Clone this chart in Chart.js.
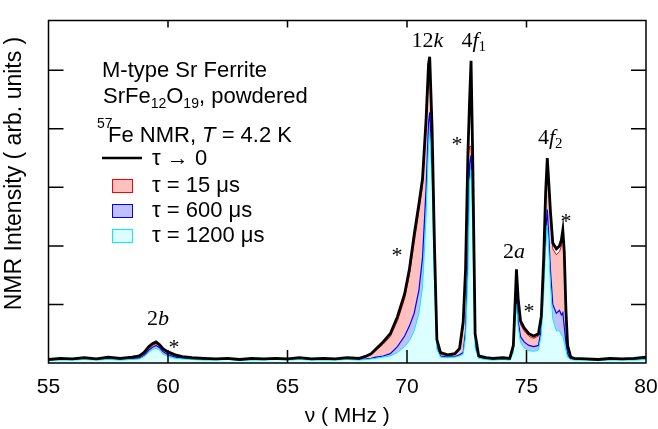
<!DOCTYPE html>
<html><head><meta charset="utf-8">
<script src="https://cdn.jsdelivr.net/npm/chart.js@4/dist/chart.umd.min.js"></script>
<style>html,body{margin:0;padding:0;background:#fff}#wrap{width:658px;height:429px}</style>
</head><body><div id="wrap"><canvas id="c" width="658" height="429"></canvas></div>
<script>
// Frequency (MHz)
const freqMHz = [55.0,55.5,56.0,56.5,57.0,57.5,58.0,58.5,58.8,59.0,59.2,59.35,59.5,59.65,59.8,60.0,60.3,60.6,61.0,61.5,
62.0,62.5,63.0,63.5,64.0,64.5,65.0,65.5,66.0,66.5,67.0,67.5,68.0,68.3,68.5,68.7,69.0,69.3,69.6,69.9,
70.1,70.3,70.5,70.65,70.8,70.9,70.95,71.05,71.15,71.25,71.4,71.7,72.0,72.2,72.35,72.45,72.55,72.62,72.68,72.75,
72.85,73.0,73.3,73.6,74.0,74.3,74.45,74.52,74.58,74.65,74.75,74.9,75.1,75.3,75.5,75.62,75.72,75.8,75.87,75.93,
76.0,76.1,76.25,76.38,76.46,76.52,76.58,76.65,76.72,76.85,77.0,77.5,78.0,78.5,79.0,79.5,80.0];
// tau -> 0
const tau0 = [0.06,0.08,0.07,0.09,0.07,0.10,0.08,0.10,0.12,0.18,0.28,0.33,0.36,0.31,0.24,0.19,0.14,0.11,0.09,0.08,
0.07,0.08,0.06,0.08,0.07,0.08,0.07,0.09,0.07,0.08,0.07,0.09,0.08,0.12,0.16,0.24,0.36,0.50,0.79,1.18,
1.60,2.19,2.72,3.15,4.17,5.10,5.23,4.00,2.00,0.40,0.18,0.14,0.16,0.25,0.70,1.60,3.60,4.50,5.16,3.50,
0.50,0.12,0.09,0.08,0.09,0.08,0.30,1.00,1.60,1.10,0.72,0.60,0.50,0.46,0.50,0.80,1.80,2.90,3.50,3.10,
2.60,2.05,1.95,2.00,2.10,2.27,1.90,0.90,0.30,0.10,0.08,0.07,0.06,0.08,0.07,0.08,0.10];
// tau = 15 us
const tau15 = [0.05,0.07,0.06,0.08,0.06,0.08,0.07,0.08,0.10,0.16,0.25,0.30,0.33,0.29,0.22,0.17,0.12,0.09,0.08,0.07,
0.06,0.07,0.05,0.07,0.06,0.07,0.06,0.08,0.06,0.07,0.06,0.08,0.07,0.10,0.14,0.21,0.32,0.45,0.72,1.10,
1.50,2.05,2.60,3.02,4.00,4.85,4.95,3.80,1.80,0.35,0.15,0.12,0.14,0.22,0.60,1.50,3.50,3.70,3.70,3.00,
0.40,0.10,0.08,0.07,0.08,0.07,0.28,0.95,1.50,1.02,0.66,0.55,0.46,0.42,0.46,0.74,1.70,2.80,3.40,3.00,
2.50,1.95,1.85,1.90,2.00,2.15,1.80,0.85,0.28,0.09,0.07,0.06,0.05,0.07,0.06,0.07,0.08];
// tau = 600 us
const tau600 = [0.05,0.06,0.05,0.07,0.06,0.07,0.06,0.07,0.08,0.13,0.22,0.27,0.30,0.26,0.19,0.14,0.10,0.08,0.07,0.06,
0.05,0.06,0.05,0.06,0.05,0.06,0.05,0.07,0.05,0.06,0.05,0.07,0.06,0.07,0.08,0.10,0.12,0.16,0.28,0.46,
0.63,0.85,1.25,1.80,3.00,4.10,4.28,3.30,1.50,0.28,0.12,0.10,0.11,0.14,0.18,0.55,1.80,3.40,3.55,2.50,
0.30,0.09,0.07,0.06,0.07,0.06,0.20,0.80,1.10,0.72,0.45,0.36,0.30,0.28,0.30,0.58,1.40,2.20,2.62,2.20,
1.60,1.00,0.85,0.90,0.82,0.86,0.62,0.35,0.15,0.07,0.06,0.05,0.05,0.06,0.05,0.06,0.07];
// tau = 1200 us
const tau1200 = [0.04,0.05,0.05,0.06,0.05,0.06,0.05,0.06,0.07,0.11,0.18,0.23,0.25,0.22,0.15,0.11,0.08,0.07,0.06,0.05,
0.05,0.06,0.04,0.05,0.05,0.06,0.05,0.06,0.05,0.05,0.05,0.06,0.05,0.06,0.07,0.08,0.10,0.12,0.18,0.28,
0.38,0.55,0.85,1.30,2.50,3.70,3.95,3.05,1.35,0.24,0.10,0.09,0.10,0.12,0.15,0.45,1.50,3.10,3.30,2.30,
0.25,0.08,0.06,0.05,0.06,0.05,0.18,0.70,1.00,0.62,0.35,0.26,0.21,0.20,0.22,0.48,1.20,1.95,2.35,1.95,
1.35,0.75,0.55,0.55,0.48,0.45,0.35,0.22,0.10,0.06,0.05,0.05,0.04,0.05,0.05,0.05,0.06];
const xTicks = [55,60,65,70,75,80];
const yTicks = [1,2,3,4,5];
const seriesLabels = ['τ → 0','τ = 15 μs','τ = 600 μs','τ = 1200 μs'];

const SANS = '"Liberation Sans", Arial, sans-serif';
const SERIF = '"Liberation Serif", "Times New Roman", serif';
const pts = arr => freqMHz.map((f,i)=>({x:f,y:arr[i]}));

function runs(ctx, x, y, parts){
  ctx.textAlign='left'; ctx.textBaseline='alphabetic';
  for(const p of parts){ ctx.font=p.f; ctx.fillText(p.t, x, y+(p.dy||0)); x += ctx.measureText(p.t).width; }
}

const decor = {
  id:'decor',
  afterDraw(chart){
    const {ctx, chartArea:a, scales:{x,y}} = chart;
    ctx.save();
    ctx.strokeStyle='#000'; ctx.fillStyle='#000'; ctx.lineWidth=1.5;
    ctx.strokeRect(a.left, a.top, a.right-a.left, a.bottom-a.top);
    ctx.beginPath();
    for(const v of xTicks){ if(v===xTicks[0]||v===xTicks[xTicks.length-1]) continue;
      const px=x.getPixelForValue(v);
      ctx.moveTo(px,a.bottom); ctx.lineTo(px,a.bottom-13);
      ctx.moveTo(px,a.top); ctx.lineTo(px,a.top+7);
    }
    for(const v of yTicks){ const py=y.getPixelForValue(v);
      ctx.moveTo(a.left,py); ctx.lineTo(a.left+15,py);
      ctx.moveTo(a.right,py); ctx.lineTo(a.right-15,py);
    }
    ctx.stroke();
    // y title
    ctx.save(); ctx.translate(15,173.5); ctx.rotate(-Math.PI/2);
    ctx.font='23px '+SANS; ctx.textAlign='center'; ctx.textBaseline='middle';
    ctx.fillText('NMR Intensity ( arb. units )',0,0); ctx.restore();
    // info block
    const f21='22px '+SANS, f14='14px '+SANS, fi21='italic 22px '+SANS;
    runs(ctx,102,76.5,[{t:'M-type Sr Ferrite',f:f21}]);
    runs(ctx,103,103,[{t:'SrFe',f:f21},{t:'12',f:f14,dy:5},{t:'O',f:f21},{t:'19',f:f14,dy:5},{t:', powdered',f:f21}]);
    runs(ctx,97,128,[{t:'57',f:f14}]);
    runs(ctx,108,141.5,[{t:'Fe NMR, ',f:f21},{t:'T',f:fi21},{t:' = 4.2 K',f:f21}]);
    // legend
    ctx.lineWidth=2.6; ctx.beginPath(); ctx.moveTo(102,158); ctx.lineTo(142,158); ctx.stroke();
    runs(ctx,152,165,[{t:seriesLabels[0],f:f21}]);
    const boxes=[['#ffc0c0','#ff0000',179,192],['#c0c0ff','#0000ff',204,217],['#dcffff','#00f0f0',229,242]];
    ctx.lineWidth=1;
    boxes.forEach((b,i)=>{ ctx.fillStyle=b[0]; ctx.fillRect(112.5,b[2]+0.5,20,13); ctx.strokeStyle=b[1]; ctx.strokeRect(112.5,b[2]+0.5,20,13);
      ctx.fillStyle='#000'; runs(ctx,152,b[3],[{t:seriesLabels[i+1],f:f21}]); });
    // peak labels
    const s22='22px '+SERIF, si22='italic 22px '+SERIF, s14='15px '+SERIF;
    runs(ctx,411.5,46.5,[{t:'12',f:s22},{t:'k',f:si22}]);
    runs(ctx,461.5,46.5,[{t:'4',f:s22},{t:'f',f:si22},{t:'1',f:s14,dy:4}]);
    runs(ctx,538,144,[{t:'4',f:s22},{t:'f',f:si22},{t:'2',f:s14,dy:4}]);
    runs(ctx,503,258,[{t:'2',f:s22},{t:'a',f:si22}]);
    runs(ctx,147,325,[{t:'2',f:s22},{t:'b',f:si22}]);
    ctx.font='22px '+SERIF; ctx.textAlign='center'; ctx.textBaseline='alphabetic';
    for(const [cx,cy] of [[457,140],[397,251],[529,307],[566,217],[174,343]]) ctx.fillText('*',cx,cy+11);
    ctx.restore();
  }
};

new Chart(document.getElementById('c'), {
  type:'line',
  data:{datasets:[
    {label:seriesLabels[0], data:pts(tau0), borderColor:'#000', borderWidth:2.8, fill:false},
    {label:seriesLabels[3], data:pts(tau1200), borderColor:'#00f0f0', backgroundColor:'#dcffff', borderWidth:1, fill:'origin'},
    {label:seriesLabels[2], data:pts(tau600), borderColor:'#0000ff', backgroundColor:'#c0c0ff', borderWidth:1.2, fill:'origin'},
    {label:seriesLabels[1], data:pts(tau15), borderColor:'#ff0000', backgroundColor:'#ffc0c0', borderWidth:1, fill:'origin'}
  ]},
  options:{
    responsive:false, animation:false, devicePixelRatio:1,
    layout:{padding:{top:20.5,right:0,left:0,bottom:0}},
    plugins:{legend:{display:false}, tooltip:{enabled:false}},
    elements:{point:{radius:0}, line:{tension:0}},
    scales:{
      x:{type:'linear', min:55, max:80,
        grid:{display:false, drawTicks:false}, border:{display:false},
        afterBuildTicks:s=>{ s.ticks = xTicks.map(v=>({value:v})); },
        ticks:{padding:12, color:'#000', maxRotation:0, font:{family:SANS, size:21}},
        title:{display:true, text:'ν ( MHz )', color:'#000', font:{family:SANS, size:21}, padding:{top:0,bottom:0}},
        afterFit:s=>{ s.height=66; s.paddingLeft=0; s.paddingRight=12; }},
      y:{min:0, max:5.85,
        grid:{display:false, drawTicks:false}, border:{display:false},
        ticks:{display:false},
        afterFit:s=>{ s.width=48.5; }}
    }
  },
  plugins:[decor]
});
</script></body></html>
